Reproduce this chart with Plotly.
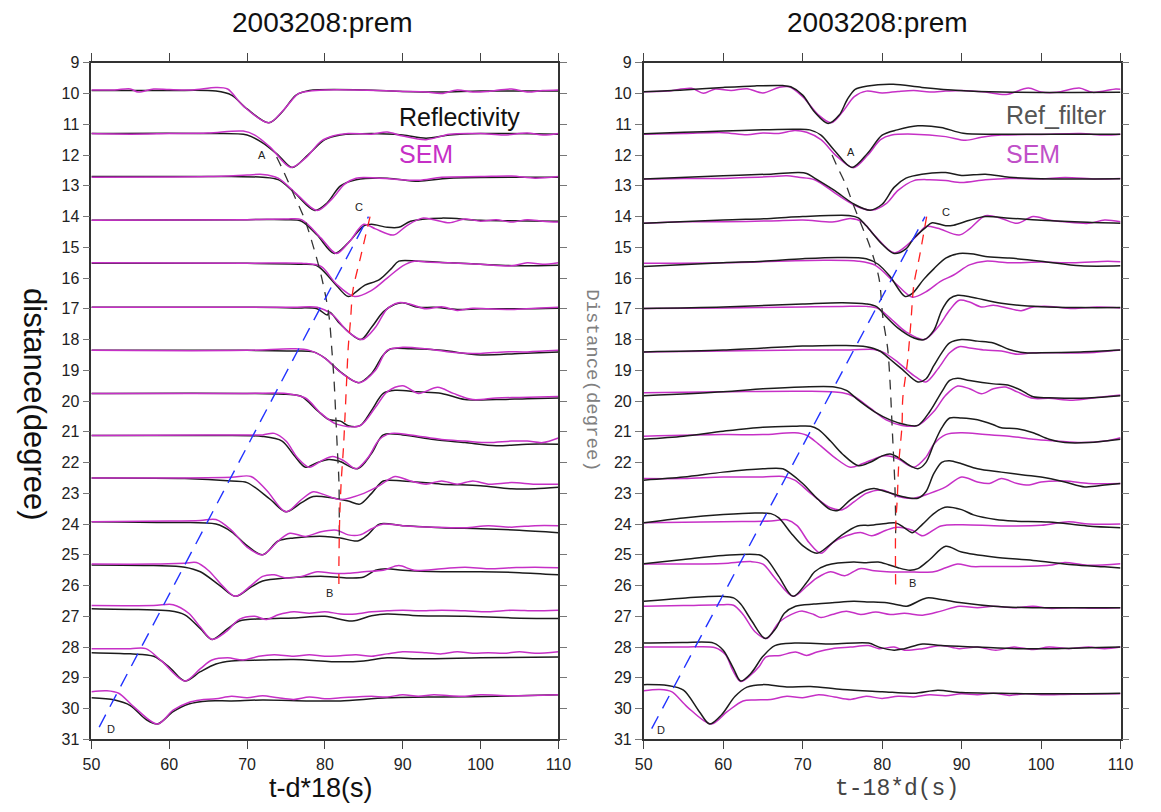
import plotly.graph_objects as go

# ---------------- data: (time s, distance deg) key points ----------------
# Left panel: Reflectivity (black) and SEM (magenta)
L_REF_01 = [(50,9.9),(60,9.9),(66,9.92),(68,10.05),(70,10.5),(72.8,10.95),(74.5,10.6),(76.3,10.05),(78,9.9),(85,9.88),(90,9.93),(95,9.95),(100,9.92),(110,9.92)]
L_REF_02 = [(50,11.3),(65,11.3),(70,11.35),(72,11.6),(74,12.0),(75.8,12.4),(77.8,12.0),(80,11.5),(82,11.35),(86,11.3),(90,11.35),(93,11.45),(96,11.35),(100,11.3),(110,11.32)]
L_REF_03 = [(50,12.7),(68,12.7),(72,12.72),(74,12.8),(76,13.2),(78.7,13.8),(80.3,13.55),(82,13.0),(84,12.8),(88,12.75),(92,12.85),(96,12.75),(110,12.72)]
L_REF_04 = [(50,14.12),(70,14.1),(75,14.1),(77,14.15),(79,14.6),(81.2,15.2),(83,14.85),(85,14.3),(86,14.25),(88,14.35),(89.5,14.35),(91,14.15),(95,14.05),(100,14.12),(110,14.15)]
L_REF_05 = [(50,15.52),(70,15.52),(77,15.55),(79,15.6),(81,16.1),(83,16.6),(84,16.45),(85,16.25),(87,16.05),(88.5,15.7),(89.5,15.45),(92,15.45),(96,15.5),(100,15.55),(105,15.6),(110,15.58)]
L_REF_06 = [(50,16.95),(70,16.95),(76,16.97),(79,17.0),(80.3,17.2),(80.6,17.1),(82,17.5),(84.6,18.0),(86,17.6),(87.5,17.1),(89,16.85),(90,16.8),(92,16.95),(94,16.95),(97,17.02),(100,17.0),(105,17.0),(110,16.98)]
L_REF_07 = [(50,18.35),(70,18.35),(76,18.37),(78.5,18.4),(80,18.6),(82,19.05),(84.3,19.4),(86,19.1),(87.5,18.5),(88.5,18.3),(91,18.3),(95,18.35),(100,18.5),(105,18.45),(110,18.4)]
L_REF_08 = [(50,19.75),(70,19.75),(75,19.78),(77,19.85),(79,20.3),(80.5,20.6),(82,20.65),(83,20.8),(84.5,20.8),(86,20.3),(87.5,19.75),(89,19.65),(92,19.7),(95,19.75),(98,19.95),(102,19.95),(106,19.92),(110,19.9)]
L_REF_09 = [(50,21.12),(65,21.12),(72,21.15),(74.5,21.3),(76,21.75),(77.5,22.15),(79,22.0),(80.5,21.9),(81.8,21.95),(84.2,22.2),(86,21.7),(87.5,21.1),(90,21.1),(94,21.25),(98,21.35),(102,21.45),(106,21.4),(110,21.4)]
L_REF_10 = [(50,22.5),(62,22.52),(68,22.6),(70,22.65),(73,23.2),(75,23.6),(77,23.3),(78.5,23.1),(81,23.15),(83,23.25),(84.5,23.35),(86,23.0),(87.5,22.6),(90,22.6),(95,22.7),(100,22.75),(104,22.85),(107,22.85),(110,22.8)]
L_REF_11 = [(50,23.92),(60,23.95),(66,24.0),(68,24.25),(70,24.7),(72,25.0),(74,24.55),(76,24.45),(80,24.4),(82,24.45),(84.2,24.55),(85.5,24.35),(87,24.0),(90,24.05),(95,24.12),(100,24.15),(105,24.2),(110,24.28)]
L_REF_12 = [(50,25.33),(58,25.35),(62,25.4),(64,25.55),(66.5,26.0),(68.5,26.35),(70.5,26.05),(72,25.85),(75,25.75),(80,25.7),(83,25.75),(85,25.72),(86.5,25.5),(88,25.45),(90,25.5),(95,25.55),(100,25.55),(105,25.58),(110,25.65)]
L_REF_13 = [(50,26.75),(56,26.78),(60,26.82),(62,26.95),(64,27.4),(65.5,27.75),(67.5,27.4),(69,27.15),(72,27.08),(76,27.05),(80,27.0),(83.5,27.15),(86,26.98),(88,26.92),(92,26.98),(98,27.0),(104,27.05),(110,27.07)]
L_REF_14 = [(50,28.18),(55,28.22),(58,28.3),(60,28.65),(62,29.1),(64,28.8),(66,28.55),(68,28.45),(72,28.42),(76,28.4),(82,28.48),(85,28.45),(88,28.35),(92,28.38),(100,28.35),(110,28.32)]
L_REF_15 = [(50,29.65),(53,29.72),(55,29.9),(57,30.35),(58.5,30.5),(60.5,30.1),(62.5,29.85),(65,29.75),(68,29.75),(72,29.72),(78,29.75),(82,29.75),(88,29.65),(95,29.62),(102,29.6),(110,29.55)]

L_SEM_01 = [(50,9.88),(53,9.88),(55,9.85),(56,9.95),(58,9.85),(60,9.87),(63,9.88),(66,9.8),(67.5,9.85),(69.5,10.4),(72.8,10.95),(74.8,10.5),(76.6,10.0),(78,9.92),(80,9.88),(84,9.88),(90,9.93),(93,9.95),(95,10.0),(97,9.88),(99,9.95),(101,9.93),(104,9.85),(106,9.95),(108,9.9),(110,9.88)]
L_SEM_02 = [(50,11.3),(55,11.32),(60,11.3),(65,11.28),(69.5,11.22),(71,11.35),(73,11.75),(75.6,12.4),(77.5,12.1),(79.5,11.55),(81,11.38),(83,11.3),(86,11.32),(88,11.25),(90,11.38),(93,11.5),(96,11.32),(100,11.3),(103,11.35),(106,11.28),(108,11.35),(110,11.3)]
L_SEM_03 = [(50,12.72),(65,12.7),(70,12.65),(72,12.63),(74,12.75),(76.5,13.3),(79,13.8),(81,13.4),(82.5,12.95),(84,12.75),(87,12.75),(92,12.82),(95,12.72),(100,12.7),(104,12.68),(107,12.75),(110,12.7)]
L_SEM_04 = [(50,14.12),(70,14.1),(75,14.08),(77,14.1),(79.5,14.7),(81.5,15.2),(83.2,14.8),(85,14.25),(86.5,14.4),(88.8,14.6),(90.5,14.3),(92.5,14.05),(94,14.1),(96,14.2),(98,14.08),(100,14.15),(102,14.1),(104,14.18),(106,14.1),(108,14.15),(110,14.18)]
L_SEM_05 = [(50,15.5),(70,15.52),(77,15.52),(79.5,15.62),(81.5,16.2),(83.8,16.6),(86,16.4),(88,16.0),(90,15.6),(91.5,15.45),(93,15.48),(96,15.5),(100,15.55),(104,15.6),(106,15.5),(108,15.55),(110,15.5)]
L_SEM_06 = [(50,16.95),(70,16.95),(76,16.95),(79,16.95),(81,17.2),(83,17.75),(84.8,18.0),(86.5,17.6),(88,17.0),(89.5,16.8),(91,16.85),(93,17.0),(95,16.93),(97,17.05),(99,16.98),(101,17.0),(104,17.02),(107,16.98),(110,16.95)]
L_SEM_07 = [(50,18.35),(70,18.35),(76,18.3),(78,18.35),(80,18.6),(82.2,19.1),(84.5,19.4),(86.5,19.0),(88,18.35),(90,18.25),(93,18.3),(96,18.4),(100,18.45),(103,18.4),(106,18.4),(110,18.35)]
L_SEM_08 = [(50,19.75),(70,19.75),(75,19.75),(77.5,19.9),(79.5,20.4),(81.5,20.75),(84.5,20.8),(86.5,20.2),(88,19.7),(90,19.5),(92,19.75),(94.5,19.55),(96.5,19.75),(99,19.95),(102,19.9),(105,19.88),(110,19.85)]
L_SEM_09 = [(50,21.12),(65,21.1),(70,21.1),(72,21.1),(73.5,21.05),(75,21.3),(76.5,21.85),(78,22.15),(79.5,21.95),(81,21.8),(82.5,21.95),(84,22.2),(85.5,21.85),(87,21.25),(88.5,21.05),(91,21.1),(95,21.25),(98,21.3),(101,21.35),(104,21.3),(106,21.3),(108,21.35),(110,21.2)]
L_SEM_10 = [(50,22.5),(62,22.5),(68,22.48),(70.5,22.45),(72.5,22.9),(75,23.6),(77,23.2),(78.5,22.95),(80,23.05),(82,23.2),(85,23.0),(87,22.75),(89,22.45),(91,22.6),(93,22.7),(95,22.6),(97,22.7),(99,22.6),(101,22.7),(104,22.65),(107,22.7),(110,22.7)]
L_SEM_11 = [(50,23.92),(60,23.9),(64,23.88),(66,23.85),(68,24.2),(70,24.75),(72,25.0),(74,24.55),(75.5,24.3),(77.5,24.4),(79.5,24.25),(81.5,24.2),(83,24.35),(84.5,24.35),(86,24.15),(87.5,24.0),(90,24.05),(94,24.1),(98,24.12),(101,24.05),(104,24.1),(107,24.05),(110,24.05)]
L_SEM_12 = [(50,25.3),(58,25.3),(62,25.27),(63.5,25.25),(65,25.5),(67,26.05),(68.5,26.35),(70.5,26.0),(72,25.7),(73.5,25.65),(75,25.75),(77,25.7),(79,25.55),(81,25.6),(83,25.6),(85,25.55),(87.5,25.5),(89.5,25.35),(91.5,25.5),(95,25.45),(98,25.4),(101,25.45),(104,25.42),(107,25.4),(110,25.42)]
L_SEM_13 = [(50,26.65),(58,26.65),(60.5,26.62),(62.5,26.9),(64,27.35),(65.5,27.75),(67.3,27.5),(69,27.1),(71,27.0),(72.5,27.1),(74,26.95),(76,26.85),(78,26.9),(80,26.85),(82,26.92),(84,26.92),(86,26.85),(88,26.82),(90,26.8),(92,26.82),(95,26.8),(98,26.82),(101,26.85),(104,26.8),(107,26.82),(110,26.8)]
L_SEM_14 = [(50,28.05),(55,28.05),(57,28.05),(59,28.45),(62,29.1),(64,28.7),(65.5,28.42),(67.5,28.35),(69.5,28.42),(71.5,28.3),(73.5,28.25),(76,28.3),(78,28.25),(80,28.3),(82,28.28),(84,28.25),(86,28.3),(88,28.22),(90,28.15),(93,28.18),(95,28.22),(97,28.15),(99,28.2),(101,28.18),(103,28.2),(105,28.15),(107,28.2),(110,28.15)]
L_SEM_15 = [(50,29.45),(52,29.42),(53.5,29.5),(55.5,29.95),(58.5,30.5),(60.5,30.05),(62.5,29.8),(64,29.72),(66,29.68),(68,29.6),(70,29.65),(72,29.58),(74,29.65),(76,29.7),(78,29.62),(80,29.68),(82,29.65),(84,29.62),(86,29.6),(88,29.62),(90,29.55),(92,29.6),(94,29.55),(96,29.58),(98,29.6),(100,29.55),(104,29.58),(110,29.55)]

# Right panel: Ref_filter (black) and SEM (magenta)
R_REF_01 = [(50,9.94),(55,9.88),(60,9.8),(64,9.75),(67.5,9.74),(68.5,9.78),(70,10.05),(71.5,10.6),(73.2,10.97),(74.6,10.7),(75.6,10.2),(76.6,9.86),(78.2,9.75),(81.4,9.7),(85,9.8),(89.7,9.9),(95,9.95),(110,9.96)]
R_REF_02 = [(50,11.31),(55,11.26),(60,11.22),(65,11.18),(69,11.16),(70.9,11.18),(72.3,11.35),(74,11.85),(76.2,12.4),(78.2,11.93),(80,11.35),(81.9,11.18),(84.5,11.05),(87.4,11.1),(90.2,11.29),(95,11.32),(110,11.32)]
R_REF_03 = [(50,12.78),(60,12.67),(66,12.62),(69.5,12.57),(70.5,12.6),(71.5,12.75),(74,13.15),(76.5,13.6),(78.5,13.79),(80,13.6),(81.5,13.05),(83,12.75),(85,12.62),(88,12.57),(90,12.66),(93,12.62),(96,12.72),(100,12.77),(110,12.77)]
R_REF_04 = [(50,14.22),(60,14.11),(66,14.06),(70,14.0),(76,13.97),(77,14.04),(78,14.3),(80,14.9),(81.5,15.2),(83,15.05),(84,14.7),(85.5,14.35),(86.3,14.2),(88,14.3),(89,14.28),(91,14.12),(93,14.0),(96,14.05),(100,14.12),(105,14.18),(110,14.22)]
R_REF_05 = [(50,15.62),(60,15.5),(65,15.45),(70,15.37),(74.5,15.33),(78,15.37),(79.5,15.55),(81,15.95),(82.9,16.6),(83.8,16.5),(85.2,16.05),(86.5,15.7),(88,15.35),(89.7,15.2),(91.5,15.22),(93,15.3),(96,15.35),(100,15.45),(105,15.6),(110,15.6)]
R_REF_06 = [(50,16.99),(60,16.94),(70,16.84),(75,16.8),(78,16.84),(79.3,16.93),(80.5,17.26),(82,17.63),(84,17.95),(85.3,18.0),(86.5,17.7),(87.5,17.05),(88.5,16.67),(89.5,16.56),(90.5,16.58),(92,16.66),(95,16.82),(100,16.93),(105,16.96),(110,16.96)]
R_REF_07 = [(50,18.4),(60,18.34),(70,18.21),(75,18.19),(78,18.23),(79.7,18.37),(81,18.64),(82.5,18.96),(84.5,19.38),(85.5,19.28),(86.5,18.85),(87.5,18.43),(88.5,18.11),(90,18.0),(92,18.05),(94,18.11),(96,18.32),(98,18.43),(100,18.43),(105,18.4),(110,18.34)]
R_REF_08 = [(50,19.83),(60,19.7),(65,19.6),(70,19.54),(74,19.54),(75.5,19.65),(77,19.97),(79,20.34),(81,20.61),(83,20.77),(84.5,20.79),(86,20.34),(87.5,19.7),(88.5,19.33),(89.5,19.26),(91,19.33),(94,19.44),(96,19.49),(97.5,19.65),(99,19.86),(101,19.89),(105,19.91),(110,19.83)]
R_REF_09 = [(50,21.24),(55,21.14),(60,20.98),(65,20.85),(69,20.82),(71,20.82),(72,20.93),(73.5,21.3),(75,21.72),(77,22.1),(78.5,21.99),(80,21.78),(81,21.72),(82,21.83),(83.5,22.1),(84.5,22.2),(85.5,22.0),(86.5,21.4),(87.5,20.87),(88.5,20.55),(90,20.55),(92,20.61),(94,20.77),(95,20.87),(97,20.9),(99,21.03),(101,21.24),(103,21.35),(106,21.35),(110,21.24)]
R_REF_10 = [(50,22.57),(55,22.47),(60,22.31),(65,22.2),(67.5,22.2),(68.5,22.36),(70,22.68),(72,23.21),(73.5,23.53),(74.5,23.55),(76,23.21),(78,22.89),(79,22.84),(80.5,22.95),(82.5,23.1),(84.5,23.16),(85.5,22.95),(86.5,22.36),(87.5,21.99),(88.5,21.94),(90,22.04),(92,22.2),(95,22.31),(98,22.41),(100,22.47),(103,22.63),(105.5,22.79),(108,22.73),(110,22.68)]
R_REF_11 = [(50,23.96),(55,23.8),(60,23.69),(64,23.64),(66,23.66),(67,23.8),(68.5,24.28),(70,24.7),(71.8,24.95),(73.3,24.7),(74.8,24.38),(76.9,24.06),(78.5,24.04),(80.5,23.98),(81.7,23.96),(82.8,24.12),(83.8,24.28),(85.1,24.0),(86.5,23.66),(87.9,23.45),(90,23.53),(91.5,23.7),(94.3,23.85),(96.5,23.9),(101,23.93),(105.8,24.06),(110,24.12)]
R_REF_12 = [(50,25.29),(55,25.15),(60,25.02),(64.5,25.0),(65.5,25.15),(67,25.7),(68.8,26.35),(70.5,25.9),(71.5,25.55),(73,25.34),(76.4,25.23),(78,25.26),(79.5,25.23),(80.8,25.32),(82,25.42),(83.5,25.5),(84.5,25.45),(86,25.15),(88,24.72),(90,24.91),(94,25.07),(99,25.18),(104,25.32),(108,25.39),(110,25.43)]
R_REF_13 = [(50,26.51),(55.3,26.4),(59.9,26.35),(61.3,26.4),(62.2,26.6),(63.6,27.15),(65.3,27.72),(66.6,27.4),(67.7,26.9),(69.1,26.67),(71.4,26.6),(73.7,26.56),(76.4,26.51),(78.3,26.53),(80.6,26.56),(81.9,26.62),(83.1,26.67),(85.6,26.4),(87.4,26.45),(90,26.56),(94,26.67),(98.9,26.72),(104,26.72),(110,26.72)]
R_REF_14 = [(50,27.87),(55,27.85),(58.8,27.87),(60,28.1),(61.3,28.7),(62.2,29.1),(63.5,28.85),(65,28.3),(66.5,27.95),(69,27.87),(73.7,27.9),(78.3,27.87),(79.6,28.0),(81.5,28.1),(82.8,28.05),(85.1,27.9),(87.4,27.95),(92,28.0),(97,28.05),(102,28.05),(110,28.0)]
R_REF_15 = [(50,29.22),(53,29.25),(55,29.4),(57,30.1),(58.3,30.5),(59.8,30.2),(61.5,29.6),(63,29.3),(65,29.22),(68,29.3),(71,29.28),(75,29.38),(80,29.45),(84,29.5),(87,29.4),(90,29.48),(95,29.5),(100,29.52),(110,29.5)]

R_SEM_01 = [(50,9.94),(53,9.92),(56,9.83),(57.5,9.99),(59,9.85),(61,9.9),(63,9.84),(65,9.98),(67,9.8),(68.3,9.78),(70,10.1),(72,10.7),(73.6,10.95),(75,10.6),(76.5,10.1),(78,9.92),(80,9.98),(82,9.93),(84,9.9),(86,9.95),(88,9.92),(90,9.9),(93,9.95),(95.6,10.03),(98.4,9.82),(100,9.95),(102,9.96),(104.8,9.82),(106.5,9.96),(109.4,9.85),(110,9.86)]
R_SEM_02 = [(50,11.32),(55,11.3),(60,11.27),(63,11.34),(65,11.28),(67,11.3),(69,11.2),(70.5,11.26),(72.3,11.5),(74.3,12.04),(76.4,12.41),(78.2,12.0),(79.8,11.5),(81.2,11.35),(84,11.32),(88,11.4),(90.5,11.52),(92.5,11.42),(95,11.35),(100,11.33),(105,11.3),(108,11.35),(110,11.32)]
R_SEM_03 = [(50,12.78),(55,12.76),(60,12.76),(63,12.73),(66,12.7),(68,12.67),(69.5,12.72),(71.5,12.8),(74.5,13.31),(77,13.69),(78.8,13.79),(80.5,13.58),(82,13.15),(84,12.83),(86,12.8),(88,12.83),(90,12.89),(93,12.8),(96,12.76),(100,12.78),(103,12.73),(107,12.78),(110,12.76)]
R_SEM_04 = [(50,14.22),(55,14.17),(60,14.17),(66,14.14),(70,14.11),(74,14.17),(76,14.06),(77.5,14.17),(79,14.6),(81.5,15.18),(83,14.96),(84.5,14.59),(85.5,14.32),(87,14.38),(89.7,14.6),(91,14.4),(93,13.97),(95,14.06),(97,14.22),(99,14.0),(101,14.11),(103,14.17),(106,14.22),(108,14.11),(110,14.17)]
R_SEM_05 = [(50,15.52),(60,15.5),(72.7,15.42),(77,15.45),(79.1,15.58),(81.6,16.15),(83.8,16.62),(85.5,16.45),(87.4,16.1),(89,15.9),(91,15.57),(93,15.45),(96,15.5),(100,15.48),(104,15.5),(108.4,15.45),(110,15.47)]
R_SEM_06 = [(50,16.99),(60,16.97),(70,16.94),(75,16.92),(78,16.92),(79.5,16.99),(81,17.3),(83,17.75),(85.3,18.0),(87,17.6),(88.5,17.04),(89.7,16.72),(91,16.78),(92.5,16.94),(94,16.88),(96,16.99),(97.5,17.06),(99,16.94),(101,16.92),(104,16.99),(107,16.94),(110,16.97)]
R_SEM_07 = [(50,18.4),(60,18.37),(70,18.34),(76,18.34),(79,18.32),(80.3,18.43),(82,18.74),(84,19.17),(85.5,19.38),(87,18.96),(88.5,18.43),(89.7,18.23),(91,18.27),(93,18.34),(95,18.37),(97,18.48),(99,18.43),(102,18.43),(106,18.43),(110,18.34)]
R_SEM_08 = [(50,19.73),(60,19.7),(70,19.68),(75,19.73),(76.5,19.86),(78.5,20.23),(80.5,20.61),(82.5,20.79),(84.5,20.79),(86.5,20.34),(88,19.81),(89.5,19.51),(91,19.6),(92.5,19.76),(94,19.6),(95.5,19.54),(97,19.7),(99,19.91),(101,19.91),(104,19.97),(107,19.88),(110,19.8)]
R_SEM_09 = [(50,21.14),(60,21.09),(65,21.09),(69,21.03),(70.5,21.11),(72,21.4),(74,21.83),(76,22.15),(77.5,22.04),(79.5,21.83),(80.5,21.78),(82,21.88),(84,22.15),(85.5,21.83),(86.5,21.4),(88,21.09),(90,21.03),(93,21.09),(96,21.14),(99,21.24),(102,21.3),(105,21.35),(108,21.3),(110,21.19)]
R_SEM_10 = [(50,22.52),(55,22.52),(60,22.47),(65,22.47),(67.5,22.45),(69,22.57),(71,23.0),(73.5,23.47),(75,23.53),(76.5,23.27),(78,23.0),(80,22.89),(82,23.1),(84,23.16),(86,23.0),(88,22.79),(90,22.47),(92,22.63),(93.5,22.68),(95,22.52),(97,22.68),(98.5,22.73),(100,22.63),(103,22.6),(106,22.68),(110,22.68)]
R_SEM_11 = [(50,23.96),(60,23.92),(66,23.9),(68,23.86),(69.3,24.05),(70.8,24.6),(72.3,24.95),(73.8,24.6),(75.5,24.38),(77.3,24.27),(78.7,24.38),(80.5,24.2),(81.9,24.1),(83.8,24.2),(85.1,24.38),(87.4,24.06),(90,24.02),(95,24.06),(100,24.04),(103.5,23.92),(106,24.0),(110,24.0)]
R_SEM_12 = [(50,25.3),(55,25.3),(60,25.28),(63.5,25.22),(65,25.3),(66.5,25.75),(68.8,26.35),(70.6,26.0),(71.8,25.75),(73.5,25.55),(75.3,25.68),(77.2,25.45),(79,25.52),(80.6,25.55),(84,25.56),(86.5,25.55),(88,25.42),(89.5,25.3),(91.2,25.38),(93,25.38),(96.6,25.38),(101,25.34),(103,25.25),(105.8,25.34),(110,25.29)]
R_SEM_13 = [(50,26.67),(55,26.65),(60,26.62),(61.3,26.64),(62.5,26.94),(64,27.5),(65.5,27.72),(67,27.2),(69.1,26.88),(70,26.83),(71.4,26.94),(72.3,27.04),(73.7,26.94),(75.5,26.83),(77.3,26.94),(79.2,26.86),(81,26.94),(82.8,26.9),(85.1,26.96),(87.4,26.83),(89.7,26.67),(92,26.72),(94,26.67),(96.6,26.72),(99,26.67),(101,26.74),(104,26.72),(107,26.74),(110,26.72)]
R_SEM_14 = [(50,28.0),(55,28.0),(59,28.02),(60.3,28.25),(61.2,28.75),(62.2,29.12),(63.5,28.9),(64.5,28.64),(65.4,28.32),(67.2,28.27),(69.1,28.16),(70.5,28.27),(71.8,28.16),(73.7,28.05),(76,28.0),(78.3,27.95),(79.6,28.05),(81.5,28.0),(82.8,28.1),(85.1,28.05),(87.4,27.95),(89.7,28.05),(92,28.0),(94.3,28.1),(96.6,28.0),(99,28.08),(101,28.0),(103.5,28.05),(106,28.0),(108,28.05),(110,28.0)]
R_SEM_15 = [(50,29.42),(52,29.38),(53.5,29.45),(55.5,29.95),(58.5,30.5),(60.5,30.1),(62.5,29.75),(64,29.72),(66,29.7),(68,29.6),(70,29.65),(72,29.55),(74,29.62),(76,29.7),(78,29.6),(80,29.67),(82,29.6),(84,29.62),(86,29.55),(88,29.58),(90,29.52),(92,29.55),(94,29.5),(96,29.57),(98,29.52),(100,29.55),(104,29.53),(110,29.52)]

# travel-time guide lines (dashed)
L_GUIDE_A = [(73.8,12.06),(74.6,12.48),(76.1,13.34),(77.4,14.09),(78.6,15.05),(79.6,16.0),(80.5,17.18),(80.9,18.35),(81.2,19.43),(81.4,20.5),(81.6,21.57),(81.8,22.6),(81.85,23.8),(81.85,24.6)]
L_GUIDE_B = [(85.8,14.0),(84.6,15.3),(83.6,16.4),(83.3,17.35),(83.0,18.25),(82.8,19.3),(82.6,20.4),(82.4,21.45),(82.1,22.6),(81.9,23.8),(81.8,25.3),(81.8,26.0)]
L_GUIDE_D = [(51.0,30.6),(85.6,14.0)]
R_GUIDE_A = [(73.7,12.0),(74.4,12.4),(75.5,13.0),(76.2,13.5),(77.6,14.4),(78.5,15.0),(79.6,16.0),(80.1,17.3),(80.7,18.3),(81.0,19.4),(81.2,20.5),(81.4,21.6),(81.6,22.7),(81.7,23.9),(81.7,24.3)]
R_GUIDE_B = [(85.6,14.0),(84.7,15.3),(84.0,16.2),(83.6,17.5),(83.2,18.7),(82.6,19.9),(82.5,20.8),(82.1,22.0),(81.9,23.2),(81.7,24.1),(81.7,26.0)]
R_GUIDE_D = [(51.0,30.65),(85.4,14.0)]

L_MARKS = [("A",71.9,12.0),("C",84.4,13.7),("B",80.6,26.25),("D",52.5,30.65)]
R_MARKS = [("A",76.1,11.9),("C",88.0,13.85),("B",83.8,25.9),("D",52.2,30.7)]

X_TICKS = [50,60,70,80,90,100,110]
Y_TICKS = list(range(9,32))
TITLE = "2003208:prem"

L_REF = [L_REF_01,L_REF_02,L_REF_03,L_REF_04,L_REF_05,L_REF_06,L_REF_07,L_REF_08,L_REF_09,L_REF_10,L_REF_11,L_REF_12,L_REF_13,L_REF_14,L_REF_15]
L_SEM = [L_SEM_01,L_SEM_02,L_SEM_03,L_SEM_04,L_SEM_05,L_SEM_06,L_SEM_07,L_SEM_08,L_SEM_09,L_SEM_10,L_SEM_11,L_SEM_12,L_SEM_13,L_SEM_14,L_SEM_15]
R_REF = [R_REF_01,R_REF_02,R_REF_03,R_REF_04,R_REF_05,R_REF_06,R_REF_07,R_REF_08,R_REF_09,R_REF_10,R_REF_11,R_REF_12,R_REF_13,R_REF_14,R_REF_15]
R_SEM = [R_SEM_01,R_SEM_02,R_SEM_03,R_SEM_04,R_SEM_05,R_SEM_06,R_SEM_07,R_SEM_08,R_SEM_09,R_SEM_10,R_SEM_11,R_SEM_12,R_SEM_13,R_SEM_14,R_SEM_15]

# ---------------- figure ----------------
W, H = 1161, 812
BLACK = "#1c1c1c"
MAG = "#c630c6"
fig = go.Figure()

def line(points, color, xa, ya, width=1.5, dash=None, spline=True):
    t = [p[0] for p in points]
    d = [p[1] for p in points]
    ln = dict(color=color, width=width)
    if spline:
        ln.update(shape="spline", smoothing=0.9)
    if dash:
        ln["dash"] = dash
    fig.add_trace(go.Scatter(x=t, y=d, mode="lines", line=ln, xaxis=xa, yaxis=ya,
                             showlegend=False, hoverinfo="skip"))

for tr in L_REF:
    line(tr, BLACK, "x", "y")
for tr in L_SEM:
    line(tr, MAG, "x", "y")
for tr in R_SEM:
    line(tr, MAG, "x2", "y2")
for tr in R_REF:
    line(tr, BLACK, "x2", "y2")

line(L_GUIDE_A, "#333333", "x", "y", 1.3, "10px,8px")
line(L_GUIDE_B, "#ff2020", "x", "y", 1.3, "10px,8px")
line(L_GUIDE_D, "#2233ff", "x", "y", 1.4, "14px,9px", spline=False)
line(R_GUIDE_A, "#333333", "x2", "y2", 1.3, "10px,8px")
line(R_GUIDE_B, "#ff2020", "x2", "y2", 1.3, "10px,8px")
line(R_GUIDE_D, "#2233ff", "x2", "y2", 1.4, "14px,9px", spline=False)

anns = []
for (txt, t, d) in L_MARKS:
    anns.append(dict(x=t, y=d, xref="x", yref="y", text=txt, showarrow=False,
                     font=dict(size=11, color="#222", family="Liberation Sans")))
for (txt, t, d) in R_MARKS:
    anns.append(dict(x=t, y=d, xref="x2", yref="y2", text=txt, showarrow=False,
                     font=dict(size=11, color="#222", family="Liberation Sans")))

# legends as text
anns += [
    dict(x=89.3, y=10.75, xref="x", yref="y", text="Reflectivity", showarrow=False, xanchor="left", yanchor="middle",
         font=dict(size=25, color="#111", family="Liberation Sans")),
    dict(x=89.3, y=11.95, xref="x", yref="y", text="SEM", showarrow=False, xanchor="left", yanchor="middle",
         font=dict(size=25, color=MAG, family="Liberation Sans")),
    dict(x=95.3, y=10.7, xref="x2", yref="y2", text="Ref_filter", showarrow=False, xanchor="left", yanchor="middle",
         font=dict(size=25, color="#555", family="Liberation Sans")),
    dict(x=95.3, y=11.95, xref="x2", yref="y2", text="SEM", showarrow=False, xanchor="left", yanchor="middle",
         font=dict(size=25, color="#c050c8", family="Liberation Sans")),
]

xl0, xl1 = 84 / W, 560 / W
xr0, xr1 = 647 / W, 1133 / W
y0, y1 = 1 - 747 / H, 1 - 56 / H

def ptext(px, py, text, size, color, family, angle=0):
    return dict(x=px / W, y=1 - py / H, xref="paper", yref="paper", text=text, showarrow=False,
                xanchor="center", yanchor="middle", textangle=angle,
                font=dict(size=size, color=color, family=family))

anns += [
    ptext(320, 15, TITLE, 28, "#111", "Liberation Sans"),
    ptext(885, 15, TITLE, 28, "#111", "Liberation Sans"),
    ptext(318, 797, "t-d*18(s)", 27, "#111", "Liberation Sans"),
    ptext(905, 798, "t-18*d(s)", 23, "#444", "Liberation Mono"),
    ptext(26, 405, "distance(degree)", 31, "#111", "Liberation Sans", 90),
    ptext(594, 380, "Distance(degree)", 19, "#808080", "Liberation Mono", 90),
]

def xax(domain, anchor):
    return dict(domain=domain, anchor=anchor, range=[50, 110], tickvals=X_TICKS,
                ticktext=[str(v) for v in X_TICKS], ticks="outside", ticklen=8, tickwidth=1.3,
                tickcolor="#444", showline=True, linecolor="#333", linewidth=1.6, mirror="allticks",
                ticklabelstandoff=2,
                showgrid=False, zeroline=False, tickfont=dict(size=16, color="#222", family="Liberation Sans"))

def yax(anchor):
    return dict(domain=[y0, y1], anchor=anchor, range=[31, 9], tickvals=Y_TICKS,
                ticktext=[str(v) for v in Y_TICKS], ticks="outside", ticklen=7, tickwidth=1.3,
                tickcolor="#777", showline=True, linecolor="#333", linewidth=1.6, mirror="allticks",
                showgrid=False, zeroline=False, tickfont=dict(size=16, color="#222", family="Liberation Sans"))

fig.update_layout(
    width=W, height=H, margin=dict(l=0, r=0, t=0, b=0),
    paper_bgcolor="white", plot_bgcolor="white",
    xaxis=xax([xl0, xl1], "y"), yaxis=yax("x"),
    xaxis2=xax([xr0, xr1], "y2"), yaxis2=yax("x2"),
    annotations=anns,
)

fig.write_html("out.html")
